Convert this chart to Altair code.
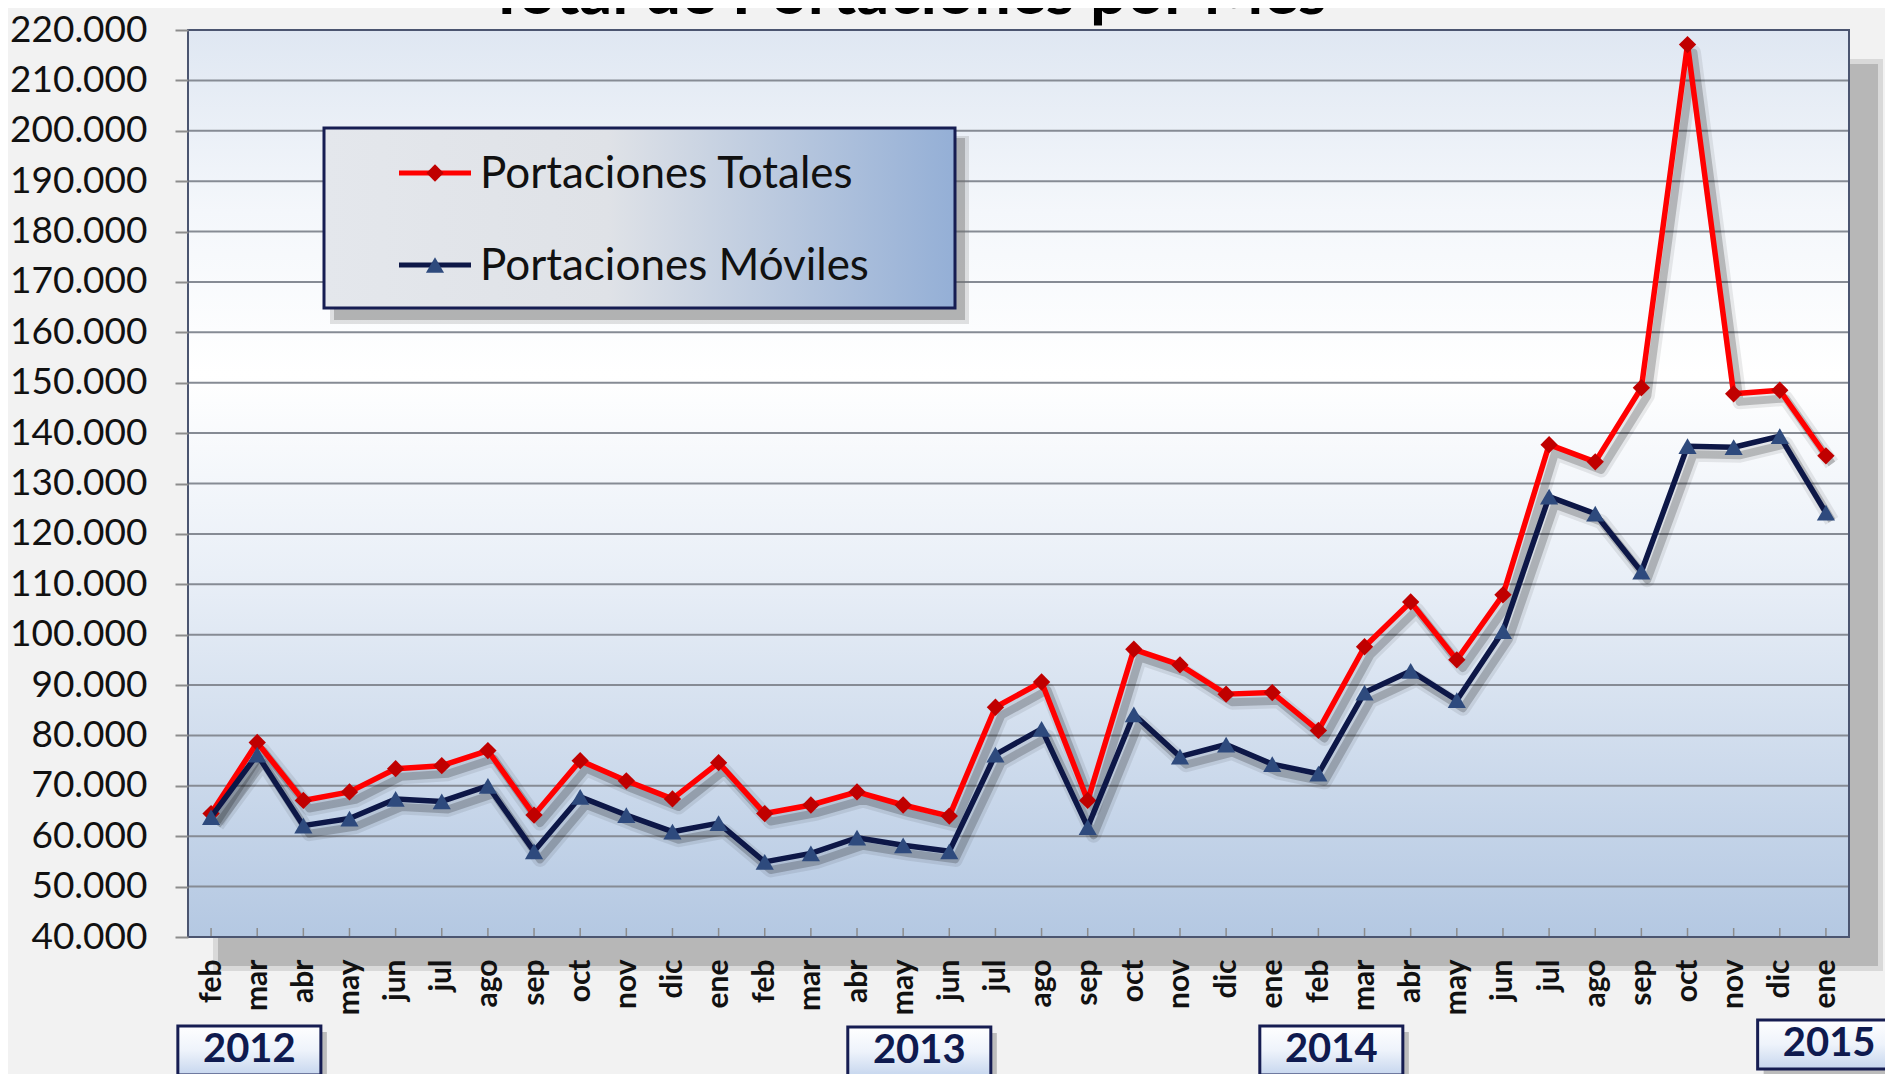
import json
import altair as alt
import pandas as pd

# ---------------- data ----------------
MONTHS = ["feb", "mar", "abr", "may", "jun", "jul", "ago", "sep", "oct", "nov", "dic", "ene",
          "feb", "mar", "abr", "may", "jun", "jul", "ago", "sep", "oct", "nov", "dic", "ene",
          "feb", "mar", "abr", "may", "jun", "jul", "ago", "sep", "oct", "nov", "dic", "ene"]
TOTALES = [64500, 78600, 67100, 68800, 73400, 74000, 77000, 64200, 75000, 71000, 67400, 74600,
           64500, 66200, 68800, 66200, 64000, 85600, 90600, 67100, 97100, 94000, 88200, 88500,
           81000, 97600, 106500, 95000, 107900, 137700, 134300, 149000, 217100, 147800, 148500, 135500]
MOVILES = [63800, 76200, 62100, 63500, 67400, 66900, 70000, 57000, 67800, 64200, 60900, 62600,
           54900, 56600, 59700, 58200, 57000, 76200, 81300, 61800, 84200, 75800, 78200, 74300,
           72400, 88500, 92800, 87000, 100700, 127400, 124000, 112500, 137400, 137200, 139400, 124200]
SERIES = ["Portaciones Totales", "Portaciones Móviles"]
Y_TICKS = list(range(40000, 220001, 10000))
YEARS = ["2012", "2013", "2014", "2015"]
YEAR_AT = [0.83, 15.35, 24.28, 35.07]   # month index under which each year tag sits
TITLE = "Total de Portaciones por Mes"

# ---------------- style / layout ----------------
W, H = 1661, 907
FONT = "Lato"
RED, RED_DARK = "#ff0000", "#c00000"
NAVY, NAVY_MARK = "#0d1747", "#2e4a7d"
BOX_STROKE = "#161d52"

rows = []
for i, m in enumerate(MONTHS):
    rows.append({"i": i, "mes": m, "serie": SERIES[0], "v": TOTALES[i]})
    rows.append({"i": i, "mes": m, "serie": SERIES[1], "v": MOVILES[i]})
df = pd.DataFrame(rows)
one = pd.DataFrame({"k": [0]})

xscale = alt.Scale(domain=[-0.5, 35.5], nice=False, zero=False)
yscale = alt.Scale(domain=[40000, 220000], nice=False, zero=False)

x_axis = alt.Axis(values=list(range(len(MONTHS))), labelExpr=json.dumps(MONTHS) + "[datum.value]",
                  labelAngle=270, labelAlign="right", labelBaseline="middle",
                  labelFont=FONT, labelFontSize=30, labelFontWeight="bold", labelColor="#111111",
                  labelPadding=22, ticks=False, tickSize=0, domain=False, grid=False, title=None,
                  labelOverlap=False, labelFlush=False, zindex=1)
y_axis = alt.Axis(values=Y_TICKS, labelExpr="replace(format(datum.value, ','), ',', '.')",
                  labelFont=FONT, labelFontSize=37, labelColor="#111111", labelPadding=28,
                  tickSize=13, tickColor="#8c8c8c", tickWidth=2, domain=False, grid=False,
                  title=None, zindex=1, labelOverlap=False, labelFlush=False)


def X(field):
    return alt.X(field, scale=xscale, axis=x_axis)


def Y(field):
    return alt.Y(field, scale=yscale, axis=y_axis)


def grad(stops, horizontal=False):
    return alt.LinearGradient(
        gradient="linear",
        stops=[alt.GradientStop(color=c, offset=o) for o, c in stops],
        x1=0, y1=0, x2=1 if horizontal else 0, y2=0 if horizontal else 1)


def box(x0, x1, y0, y1, **kw):
    return alt.Chart(one).mark_rect(**kw).encode(
        x=alt.value(x0), x2=alt.value(x1), y=alt.value(y0), y2=alt.value(y1))


layers = []
# plot drop shadow
layers.append(box(25, W + 34, 29, H + 34, color="#8f8f8f", opacity=0.25))
layers.append(box(30, W + 29, 34, H + 29, color="#8f8f8f", opacity=0.45))
# plot background gradient
layers.append(box(0, W, 0, H, fill=grad([(0, "#dfe7f2"), (0.2, "#f4f7fb"), (0.38, "#ffffff"),
                                          (0.6, "#e9eff7"), (1, "#b4c8e2")])))
# horizontal grid lines (carry the y axis)
layers.append(alt.Chart(pd.DataFrame({"t": Y_TICKS})).mark_rule(color="#868b94", strokeWidth=2).encode(
    y=Y("t:Q")))
# inner x ticks (carry the x axis)
layers.append(alt.Chart(pd.DataFrame({"i": list(range(len(MONTHS)))})).mark_rule(
    color="#8c8c8c", strokeWidth=1.5).encode(
    x=X("i:Q"), y=alt.value(H - 9), y2=alt.value(H)))

# soft line shadows
shadow = alt.Chart(df).transform_calculate(sx="datum.i + 0.13", sy="datum.v - 1600")
layers.append(shadow.mark_line(strokeWidth=15, color="#000000", opacity=0.08, strokeJoin="round").encode(
    x=X("sx:Q"), y=Y("sy:Q"), detail="serie:N"))
layers.append(shadow.mark_line(strokeWidth=8, color="#000000", opacity=0.2, strokeJoin="round").encode(
    x=X("sx:Q"), y=Y("sy:Q"), detail="serie:N"))

for s, lc, mc, shp, sz in [(SERIES[0], RED, RED_DARK, "diamond", 300),
                           (SERIES[1], NAVY, NAVY_MARK, "triangle-up", 330)]:
    d = df[df["serie"] == s]
    layers.append(alt.Chart(d).mark_line(color=lc, strokeWidth=5.5, strokeJoin="round").encode(
        x=X("i:Q"), y=Y("v:Q")))
    layers.append(alt.Chart(d).mark_point(shape=shp, filled=True, color=mc, size=sz, opacity=1).encode(
        x=X("i:Q"), y=Y("v:Q")))

# plot border
layers.append(box(0, W, 0, H, fillOpacity=0, stroke="#4b5570", strokeWidth=2))

# legend
LX0, LX1, LY0, LY1 = 136, 767, 98, 278
layers.append(box(LX0 + 6, LX1 + 14, LY0 + 8, LY1 + 16, color="#6f6f6f", opacity=0.2))
layers.append(box(LX0 + 10, LX1 + 10, LY0 + 10, LY1 + 12, color="#6f6f6f", opacity=0.4))
layers.append(box(LX0, LX1, LY0, LY1,
                  fill=grad([(0, "#e4e7ec"), (0.45, "#dfe2e7"), (1, "#94afd6")], horizontal=True),
                  stroke=BOX_STROKE, strokeWidth=3))
for s, lc, mc, shp, sz, ly in [(SERIES[0], RED, RED_DARK, "diamond", 300, 143),
                               (SERIES[1], NAVY, NAVY_MARK, "triangle-up", 330, 235)]:
    layers.append(alt.Chart(one).mark_rule(color=lc, strokeWidth=5).encode(
        x=alt.value(211), x2=alt.value(283), y=alt.value(ly)))
    layers.append(alt.Chart(one).mark_point(shape=shp, filled=True, color=mc, size=sz, opacity=1).encode(
        x=alt.value(247), y=alt.value(ly)))
    layers.append(alt.Chart(one).mark_text(align="left", baseline="middle", font=FONT, fontSize=44,
                                           color="#111111").encode(
        x=alt.value(292), y=alt.value(ly + 2), text=alt.value(s)))

# year tags
YEAR_TOP = [996, 997, 996, 990]
for yr, at, top in zip(YEARS, YEAR_AT, YEAR_TOP):
    d = pd.DataFrame({"year": [yr], "at": [at]})
    base = alt.Chart(d).transform_calculate(x0="datum.at - 1.55", x1="datum.at + 1.55",
                                            sx0="datum.at - 1.42", sx1="datum.at + 1.68")
    layers.append(base.mark_rect(color="#7a7a7a", opacity=0.45).encode(
        x=X("sx0:Q"), x2="sx1:Q", y=alt.value(top + 6), y2=alt.value(top + 55)))
    layers.append(base.mark_rect(fill=grad([(0, "#ffffff"), (0.5, "#eef3fb"), (1, "#c6d6ee")]),
                                 stroke=BOX_STROKE, strokeWidth=3).encode(
        x=X("x0:Q"), x2="x1:Q", y=alt.value(top), y2=alt.value(top + 49)))
    layers.append(base.mark_text(font=FONT, fontSize=40, fontWeight="bold", color="#0f1a4f",
                                 baseline="middle", align="center").encode(
        x=X("at:Q"), y=alt.value(top + 24), text="year:N"))

# title (cut off at the top, as in the original)
layers.append(alt.Chart(one).mark_text(font=FONT, fontSize=65, fontWeight="bold", color="#000000",
                                       align="center", baseline="alphabetic").encode(
    x=alt.value(719), y=alt.value(-16), text=alt.value(TITLE)))

chart = alt.layer(*layers).properties(
    width=W, height=H,
    autosize=alt.AutoSizeParams(type="none"),
    padding={"left": 180, "top": 22, "right": 36, "bottom": 137},
    background="#f2f2f2",
).configure_view(strokeWidth=0)

chart.save("out.html", embed_options={"renderer": "svg", "actions": False})
